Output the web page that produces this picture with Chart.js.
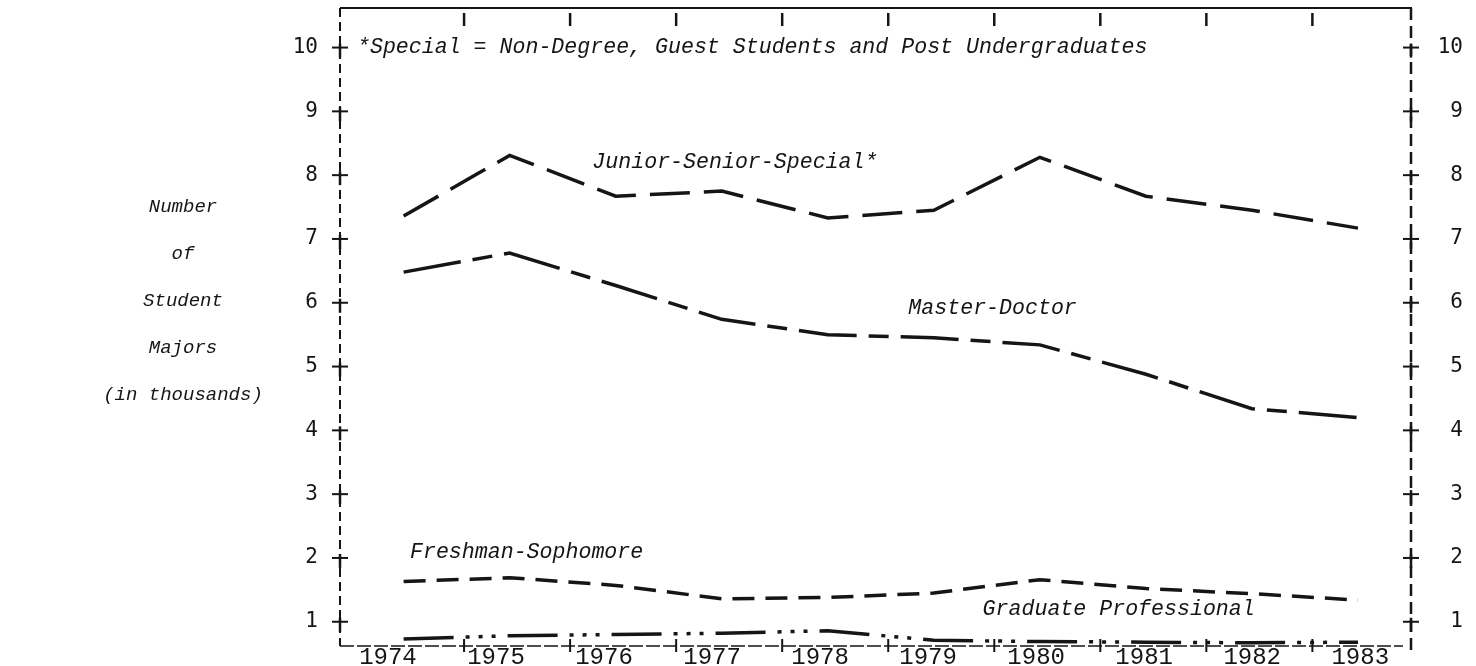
<!DOCTYPE html>
<html><head><meta charset="utf-8">
<script src="https://cdn.jsdelivr.net/npm/chart.js@4.4.1/dist/chart.umd.min.js"></script>
<style>html,body{margin:0;padding:0;background:#fff}#wrap{width:1476px;height:666px}</style>
</head><body><div id="wrap"><canvas id="c" width="1476" height="666"></canvas></div>
<script>
// ---- data ----
const years = [1974, 1975, 1976, 1977, 1978, 1979, 1980, 1981, 1982, 1983];
const juniorSeniorSpecial  = [7.36, 8.31, 7.67, 7.75, 7.33, 7.45, 8.28, 7.67, 7.45, 7.17];
const masterDoctor         = [6.48, 6.78, 6.27, 5.74, 5.50, 5.45, 5.34, 4.88, 4.34, 4.20];
const freshmanSophomore    = [1.63, 1.69, 1.57, 1.36, 1.38, 1.45, 1.66, 1.52, 1.44, 1.34];
const graduateProfessional = [0.73, 0.78, 0.80, 0.82, 0.86, 0.71, 0.69, 0.68, 0.67, 0.68];
const yTickValues = [1, 2, 3, 4, 5, 6, 7, 8, 9, 10];
const yTitleLines = ['Number', 'of', 'Student', 'Majors', '(in thousands)'];
const footnote = '*Special = Non-Degree, Guest Students and Post Undergraduates';
const seriesNames = ['Junior-Senior-Special*', 'Master-Doctor', 'Freshman-Sophomore', 'Graduate Professional'];

const ink = '#151515';
const italicFont = 'italic 21.6px "Liberation Mono", "DejaVu Sans Mono", monospace';

function pts(vals){ return vals.map((v,i)=>({x: years[i], y: v})); }
function noPad(s){ s.paddingTop = 0; s.paddingBottom = 0; s.paddingLeft = 0; s.paddingRight = 0; }

const framePlugin = {
  id: 'frame',
  beforeDatasetsDraw(chart, args, opts){
    const {ctx, chartArea:a, scales} = chart;
    const x = scales.x, y = scales.y;
    const line = (x1,y1,x2,y2)=>{ctx.beginPath();ctx.moveTo(x1,y1);ctx.lineTo(x2,y2);ctx.stroke();};
    ctx.save();
    ctx.strokeStyle = ink;
    ctx.lineWidth = 2; ctx.setLineDash([]);
    line(a.left, a.top, a.right + 1, a.top);
    ctx.setLineDash([9,5]); line(a.left, a.top, a.left, a.bottom);
    ctx.lineWidth = 2.5; ctx.setLineDash([12,6]); line(a.right, a.top, a.right, a.bottom + 4);
    ctx.lineWidth = 1.5; ctx.setLineDash([14,3]); line(a.left, a.bottom, a.right - 8, a.bottom);
    ctx.setLineDash([]);
    years.slice(0, -1).forEach(yr => {
      const px = x.getPixelForValue(yr + opts.tickShift);
      ctx.lineWidth = 2.5; line(px, a.top + 5, px, a.top + 18);
      ctx.lineWidth = 2; line(px, a.bottom - 7, px, a.bottom + 6);
    });
    yTickValues.forEach(v => {
      const py = y.getPixelForValue(v);
      [a.left, a.right].forEach(px => {
        ctx.lineWidth = 2; line(px - 8, py, px + 8, py);
        ctx.lineWidth = 2.5; line(px, py - 4, px, py + 10);
      });
    });
    ctx.restore();
  },
  afterDraw(chart, args, opts){
    const {ctx, scales} = chart;
    const x = scales.x, y = scales.y;
    ctx.save();
    ctx.fillStyle = ink;
    ctx.textBaseline = 'middle';
    ctx.font = italicFont;
    ctx.textAlign = 'left';
    opts.notes.forEach(n => {
      ctx.fillText(n.text, x.getPixelForValue(n.at[0]), y.getPixelForValue(n.at[1]));
    });
    ctx.font = 'italic 19px "Liberation Mono", "DejaVu Sans Mono", monospace';
    ctx.textAlign = 'center';
    yTitleLines.forEach((t, i) => ctx.fillText(t, opts.titleX, opts.titleY + i * opts.titleGap));
    ctx.restore();
  }
};

const common = {borderColor: ink, borderWidth: 3.5, pointRadius: 0, fill: false, tension: 0, borderCapStyle: 'butt'};

new Chart(document.getElementById('c'), {
  type: 'line',
  data: {
    datasets: [
      {...common, label: seriesNames[0], data: pts(juniorSeniorSpecial), borderDash: [40, 14]},
      {...common, label: seriesNames[1], data: pts(masterDoctor), borderDash: [58, 12, 20, 12]},
      {...common, label: seriesNames[2], data: pts(freshmanSophomore), borderDash: [22, 11]},
      {...common, label: seriesNames[3], data: pts(graduateProfessional), borderDash: [50, 12, 4, 9, 4, 9, 4, 12]}
    ]
  },
  options: {
    responsive: false,
    animation: false,
    devicePixelRatio: 1,
    layout: {padding: {top: 8, right: 13, bottom: 0, left: 0}},
    plugins: {
      legend: {display: false},
      tooltip: {enabled: false},
      frame: {
        tickShift: 0.57,
        titleX: 183, titleY: 207, titleGap: 47,
        notes: [
          {text: footnote, at: [1973.56, 10.0]},
          {text: seriesNames[0], at: [1975.78, 8.2]},
          {text: seriesNames[1], at: [1978.76, 5.92]},
          {text: seriesNames[2], at: [1974.06, 2.09]},
          {text: seriesNames[3], at: [1979.46, 1.2]}
        ]
      }
    },
    scales: {
      x: {type: 'linear', display: false, min: 1973.4, max: 1983.5},
      xl: {
        type: 'linear', position: 'bottom', min: 1973.556, max: 1983.47,
        afterBuildTicks: s => { s.ticks = years.map(v => ({value: v})); },
        afterFit: s => { s.height = 20; noPad(s); },
        grid: {display: false, drawTicks: false},
        border: {display: false},
        ticks: {padding: -3, color: ink, font: {family: '"Liberation Mono", monospace', size: 24}, callback: v => String(v)}
      },
      y: {
        type: 'linear', position: 'left', min: 0.62, max: 10.62,
        afterBuildTicks: s => { s.ticks = yTickValues.map(v => ({value: v})); },
        afterFit: s => { s.width = 340; noPad(s); },
        grid: {display: false, drawTicks: false},
        border: {display: false},
        ticks: {padding: 22, color: ink, font: {family: '"DejaVu Sans Mono", monospace', size: 21}, callback: v => String(v)}
      },
      y2: {
        type: 'linear', position: 'right', min: 0.62, max: 10.62,
        afterBuildTicks: s => { s.ticks = yTickValues.map(v => ({value: v})); },
        afterFit: s => { s.width = 52; noPad(s); },
        grid: {display: false, drawTicks: false},
        border: {display: false},
        ticks: {crossAlign: 'far', padding: 22, color: ink, font: {family: '"DejaVu Sans Mono", monospace', size: 21}, callback: v => String(v)}
      }
    }
  },
  plugins: [framePlugin]
});
</script>
</body></html>
